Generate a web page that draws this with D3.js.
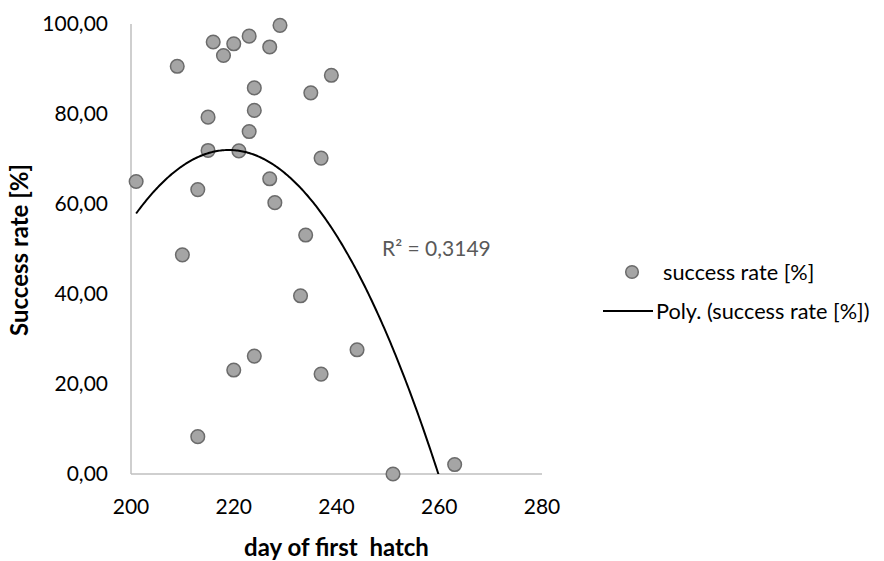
<!DOCTYPE html>
<html>
<head>
<meta charset="utf-8">
<script src="https://cdn.jsdelivr.net/npm/d3@7"></script>
<style>
  html, body { margin: 0; padding: 0; background: #fff; }
  svg { display: block; font-family: Lato, "Open Sans", sans-serif; }
</style>
</head>
<body>
<svg id="chart" width="884" height="561"></svg>
<script>
// ---- data ----
const days  = [201, 209, 210, 213, 213, 215, 215, 216, 218, 220, 220, 221, 223, 223, 224, 224, 224, 227, 227, 228, 229, 233, 234, 235, 237, 237, 239, 244, 251, 263];
const rates = [65.0, 90.6, 48.7, 63.2, 8.3, 79.3, 71.9, 96.0, 93.0, 95.6, 23.1, 71.8, 97.3, 76.1, 85.8, 80.8, 26.2, 94.9, 65.6, 60.3, 99.7, 39.6, 53.1, 84.7, 70.2, 22.2, 88.6, 27.6, 0.0, 2.1];
const xTicks = [200, 220, 240, 260, 280];
const yTicks = [0, 20, 40, 60, 80, 100];
// polynomial (order 2) trendline in vertex form: [a, h, k] -> y = a*(x-h)^2 + k
const trendParams = [-0.0433, 219.05, 72.0];
const r2Label = "R² = 0,3149";
const seriesName = "success rate [%]";
const trendName = "Poly. (success rate [%])";
const xTitle = "day of first  hatch";
const yTitle = "Success rate [%]";

const points = days.map((d, i) => ({x: d, y: rates[i]}));

const svg = d3.select("#chart");
const pL = 131, pR = 542, pT = 24, pB = 474;

const x = d3.scaleLinear().domain([200, 280]).range([pL, pR]);
const y = d3.scaleLinear().domain([0, 100]).range([pB, pT]);
const fmt = d => d3.format(".2f")(d).replace(".", ",");

// axes lines
svg.append("line").attr("x1", pL).attr("x2", pL).attr("y1", pT).attr("y2", pB)
  .attr("stroke", "#bfbfbf").attr("stroke-width", 1.5);
svg.append("line").attr("x1", pL).attr("x2", pR).attr("y1", pB).attr("y2", pB)
  .attr("stroke", "#bfbfbf").attr("stroke-width", 1.5);

// tick labels
const tickFont = 21;
svg.append("g").selectAll("text").data(yTicks).join("text")
  .attr("x", 108).attr("y", d => y(d)).attr("dy", "0.35em")
  .attr("text-anchor", "end").attr("font-size", tickFont).attr("fill", "#000")
  .text(fmt);
svg.append("g").selectAll("text").data(xTicks).join("text")
  .attr("x", d => x(d)).attr("y", 507).attr("dy", "0.35em")
  .attr("text-anchor", "middle").attr("font-size", tickFont).attr("fill", "#000")
  .text(d => d);

// axis titles
svg.append("text").attr("x", (pL + pR) / 2).attr("y", 548).attr("dy", "0.35em")
  .attr("text-anchor", "middle").attr("font-size", 24).attr("font-weight", "bold")
  .style("white-space", "pre").text(xTitle);
svg.append("text").attr("transform", `translate(20,250) rotate(-90)`)
  .attr("dy", "0.35em").attr("text-anchor", "middle").attr("font-size", 24).attr("font-weight", "bold")
  .text(yTitle);

// clip for trendline
svg.append("clipPath").attr("id", "plotclip").append("rect")
  .attr("x", pL).attr("y", pT - 5).attr("width", pR - pL).attr("height", pB - pT + 5);

// markers
svg.append("g").selectAll("circle").data(points).join("circle")
  .attr("cx", d => x(d.x)).attr("cy", d => y(d.y)).attr("r", 6.8)
  .attr("fill", "#a5a5a5").attr("stroke", "#6b6b6b").attr("stroke-width", 1.5);

// trendline
const [a, h, k] = trendParams;
const xs = d3.range(d3.min(days), d3.max(days) + 0.01, 0.25);
const line = d3.line().x(d => x(d)).y(d => y(a * (d - h) ** 2 + k));
svg.append("path").datum(xs).attr("d", line).attr("fill", "none")
  .attr("stroke", "#000").attr("stroke-width", 2).attr("clip-path", "url(#plotclip)");

// R² label
svg.append("text").attr("x", 382).attr("y", 249).attr("dy", "0.35em")
  .attr("font-size", 21).attr("fill", "#595959").text(r2Label);

// legend
svg.append("circle").attr("cx", 632).attr("cy", 272).attr("r", 6.3)
  .attr("fill", "#a5a5a5").attr("stroke", "#6b6b6b").attr("stroke-width", 1.5);
svg.append("text").attr("x", 663).attr("y", 272).attr("dy", "0.35em")
  .attr("font-size", 21.7).attr("fill", "#000").text(seriesName);
svg.append("line").attr("x1", 603).attr("x2", 653).attr("y1", 311).attr("y2", 311)
  .attr("stroke", "#000").attr("stroke-width", 2);
svg.append("text").attr("x", 656).attr("y", 311).attr("dy", "0.35em")
  .attr("font-size", 21.7).attr("fill", "#000").text(trendName);
</script>
</body>
</html>
